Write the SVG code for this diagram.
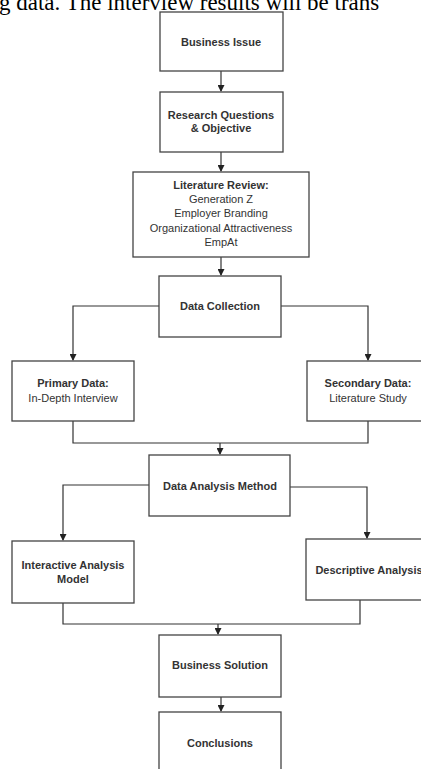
<svg xmlns="http://www.w3.org/2000/svg" width="421" height="769" viewBox="0 0 421 769">
<defs>
<marker id="ah" markerWidth="7" markerHeight="7" refX="6" refY="3.5" orient="auto" markerUnits="userSpaceOnUse">
<path d="M0,0 L7,3.5 L0,7 Z" fill="#222"/>
</marker>
<style>
.box{fill:#fff;stroke:#444;stroke-width:1.3}
.t{font-family:"Liberation Sans",Arial,sans-serif;font-size:11px;fill:#333;text-anchor:middle}
.b{font-weight:bold}
.c{fill:none;stroke:#333;stroke-width:1.2}
.top{font-family:"Liberation Serif","Times New Roman",serif;font-size:23px;fill:#000}
</style>
</defs>
<rect width="421" height="769" fill="#fff"/>
<text class="top" x="-1" y="10">g data. The interview results will be trans</text>
<g id="connectors">
<path class="c" d="M221,71 V91" marker-end="url(#ah)"/>
<path class="c" d="M221,152 V171" marker-end="url(#ah)"/>
<path class="c" d="M221,257 V275" marker-end="url(#ah)"/>
<path class="c" d="M159,306 H73 V360" marker-end="url(#ah)"/>
<path class="c" d="M281,306 H368 V360" marker-end="url(#ah)"/>
<path class="c" d="M73,421 V443 H368 V421"/>
<path class="c" d="M220,443 V454" marker-end="url(#ah)"/>
<path class="c" d="M149,485 H63 V540" marker-end="url(#ah)"/>
<path class="c" d="M290,487 H367 V538" marker-end="url(#ah)"/>
<path class="c" d="M63,603 V624 H360 V600"/>
<path class="c" d="M218,624 V634" marker-end="url(#ah)"/>
<path class="c" d="M221,697 V711" marker-end="url(#ah)"/>
</g>
<g id="business-issue">
<rect class="box" x="160" y="12" width="123" height="59"/>
<text class="t b" x="221" y="46">Business Issue</text>
</g>
<g id="research-questions">
<rect class="box" x="160" y="92" width="123" height="60"/>
<text class="t b" x="221" y="119">Research Questions</text>
<text class="t b" x="221" y="132">&amp; Objective</text>
</g>
<g id="literature-review">
<rect class="box" x="133" y="172" width="176" height="85"/>
<text class="t b" x="221" y="189">Literature Review:</text>
<text class="t" x="221" y="203">Generation Z</text>
<text class="t" x="221" y="217">Employer Branding</text>
<text class="t" x="221" y="232">Organizational Attractiveness</text>
<text class="t" x="221" y="246">EmpAt</text>
</g>
<g id="data-collection">
<rect class="box" x="159" y="276" width="122" height="61"/>
<text class="t b" x="220" y="310">Data Collection</text>
</g>
<g id="primary-data">
<rect class="box" x="12" y="361" width="122" height="60"/>
<text class="t b" x="73" y="387">Primary Data:</text>
<text class="t" x="73" y="402">In-Depth Interview</text>
</g>
<g id="secondary-data">
<rect class="box" x="307" y="361" width="124" height="60"/>
<text class="t b" x="368" y="387">Secondary Data:</text>
<text class="t" x="368" y="402">Literature Study</text>
</g>
<g id="data-analysis-method">
<rect class="box" x="149" y="455" width="141" height="61"/>
<text class="t b" x="220" y="490">Data Analysis Method</text>
</g>
<g id="interactive-analysis">
<rect class="box" x="12" y="541" width="122" height="62"/>
<text class="t b" x="73" y="569">Interactive Analysis</text>
<text class="t b" x="73" y="583">Model</text>
</g>
<g id="descriptive-analysis">
<rect class="box" x="306" y="539" width="126" height="61"/>
<text class="t b" x="369" y="574">Descriptive Analysis</text>
</g>
<g id="business-solution">
<rect class="box" x="159" y="635" width="122" height="62"/>
<text class="t b" x="220" y="669">Business Solution</text>
</g>
<g id="conclusions">
<rect class="box" x="159" y="712" width="122" height="70"/>
<text class="t b" x="220" y="747">Conclusions</text>
</g>
</svg>
